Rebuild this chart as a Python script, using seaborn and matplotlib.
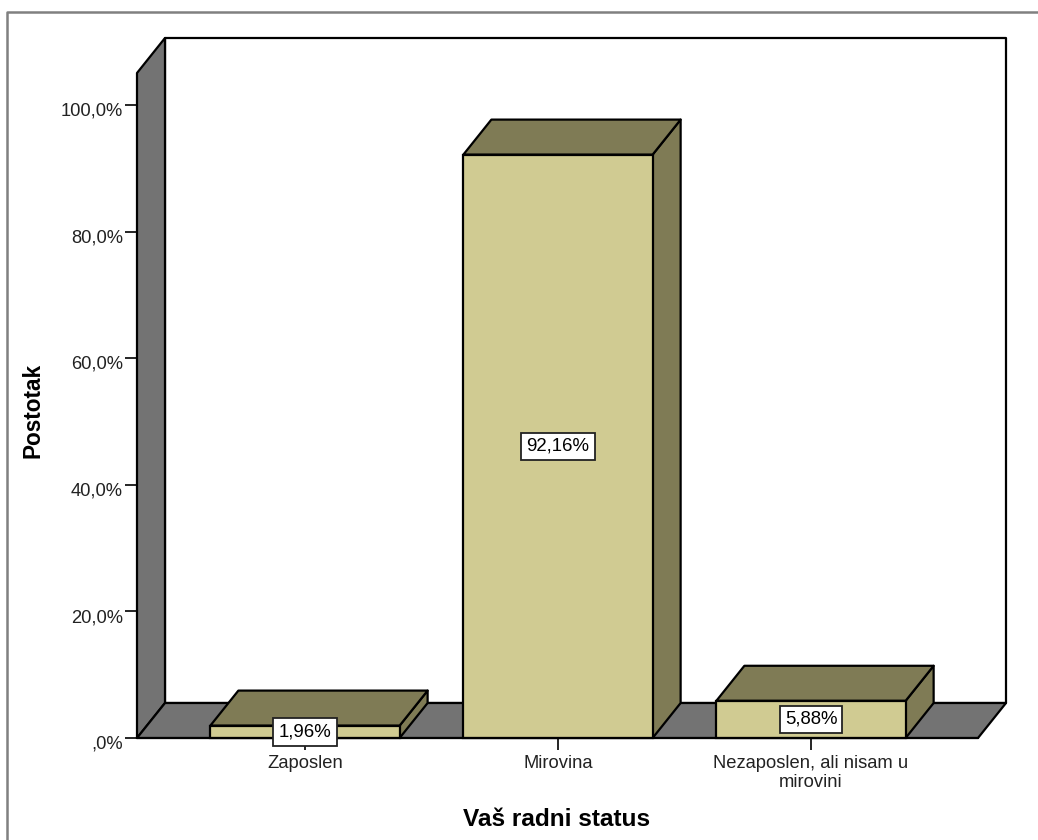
import matplotlib
matplotlib.use('Agg')
import matplotlib.pyplot as plt
from matplotlib.patches import Polygon
from matplotlib.transforms import ScaledTranslation
import pandas as pd
import seaborn as sns

categories = ['Zaposlen', 'Mirovina', 'Nezaposlen, ali nisam u\nmirovini']
values = [1.96, 92.16, 5.88]
value_labels = ['1,96%', '92,16%', '5,88%']
yticks = [0, 20, 40, 60, 80, 100]
ytick_labels = [',0%', '20,0%', '40,0%', '60,0%', '80,0%', '100,0%']

FRONT = '#d0cb92'
DARK = '#7f7b55'
WALL = '#737373'

W, H = 1038, 840
DEPTH_X, DEPTH_Y = 28, 35  # pixels

sns.set_theme(style='white')
plt.rcParams['font.family'] = ['Liberation Sans', 'DejaVu Sans']

fig = plt.figure(figsize=(W / 100, H / 100), dpi=100)
ax = fig.add_axes([137 / W, (H - 738) / H, 841 / W, 665 / H])

df = pd.DataFrame({'status': categories, 'pct': values})
sns.barplot(data=df, x='status', y='pct', color=FRONT, saturation=1, width=0.748,
            edgecolor='black', linewidth=1.6, ax=ax, zorder=5)

ax.set_xlim(-0.664, 2.66)
ax.set_ylim(0, 105.05)
x0, x1 = ax.get_xlim()
y0, y1 = ax.get_ylim()
dx = DEPTH_X * (x1 - x0) / 841
dy = DEPTH_Y * (y1 - y0) / 665


def face(points, color, z):
    ax.add_patch(Polygon(points, closed=True, facecolor=color, edgecolor='black',
                         linewidth=1.6, clip_on=False, zorder=z, joinstyle='round'))


# walls and floor
face([(x0, y0), (x0, y1), (x0 + dx, y1 + dy), (x0 + dx, y0 + dy)], WALL, 1)
face([(x0, y0), (x0 + dx, y0 + dy), (x1 + dx, y0 + dy), (x1, y0)], WALL, 1)
face([(x0 + dx, y0 + dy), (x0 + dx, y1 + dy), (x1 + dx, y1 + dy), (x1 + dx, y0 + dy)], 'white', 0.5)

# side and top of each bar
for bar in ax.patches[:3]:
    left = bar.get_x()
    right = left + bar.get_width()
    top = bar.get_height()
    face([(right, 0), (right, top), (right + dx, top + dy), (right + dx, dy)], DARK, 3)
    face([(left, top), (left + dx, top + dy), (right + dx, top + dy), (right, top)], DARK, 4)
    bar.set_clip_on(False)

for i, (v, lab) in enumerate(zip(values, value_labels)):
    ax.text(i, v / 2, lab, ha='center', va='center', fontsize=13.4, color='black', zorder=10,
            bbox=dict(boxstyle='square,pad=0.28', facecolor='white', edgecolor='#222222', linewidth=1.3))

ax.set_yticks(yticks)
ax.set_yticklabels(ytick_labels)
ax.tick_params(axis='both', which='major', length=8.6, width=1.2, color='black', left=True, bottom=True,
               labelsize=13.2, labelcolor='#222222', pad=1.5)
ax.tick_params(axis='x', pad=4)
for lbl in ax.get_xticklabels():
    lbl.set_linespacing(1.1)
# tick labels sit a little below their ticks
for lbl in ax.get_yticklabels():
    lbl.set_transform(lbl.get_transform() + ScaledTranslation(0, -3 / 72, fig.dpi_scale_trans))
ax.set_xlabel('')
ax.set_ylabel('')
for s in ax.spines.values():
    s.set_visible(False)
ax.spines['bottom'].set_visible(True)
ax.spines['bottom'].set_color('black')
ax.spines['bottom'].set_linewidth(1.5)
ax.spines['bottom'].set_zorder(6)

fig.text(557 / W, 1 - 819 / H, 'Vaš radni status', ha='center', va='center',
         fontsize=17.6, fontweight='bold', color='black')
fig.text(33 / W, 1 - 410 / H, 'Postotak', ha='center', va='center', rotation=90,
         fontsize=16.3, fontweight='bold', color='black')

# gray frame of the chart window
fig.add_artist(plt.Line2D([7 / W, 7 / W, 1], [0, 1 - 12 / H, 1 - 12 / H], color='#808080', linewidth=1.8))

fig.savefig('out.png', dpi=100, facecolor='white')
